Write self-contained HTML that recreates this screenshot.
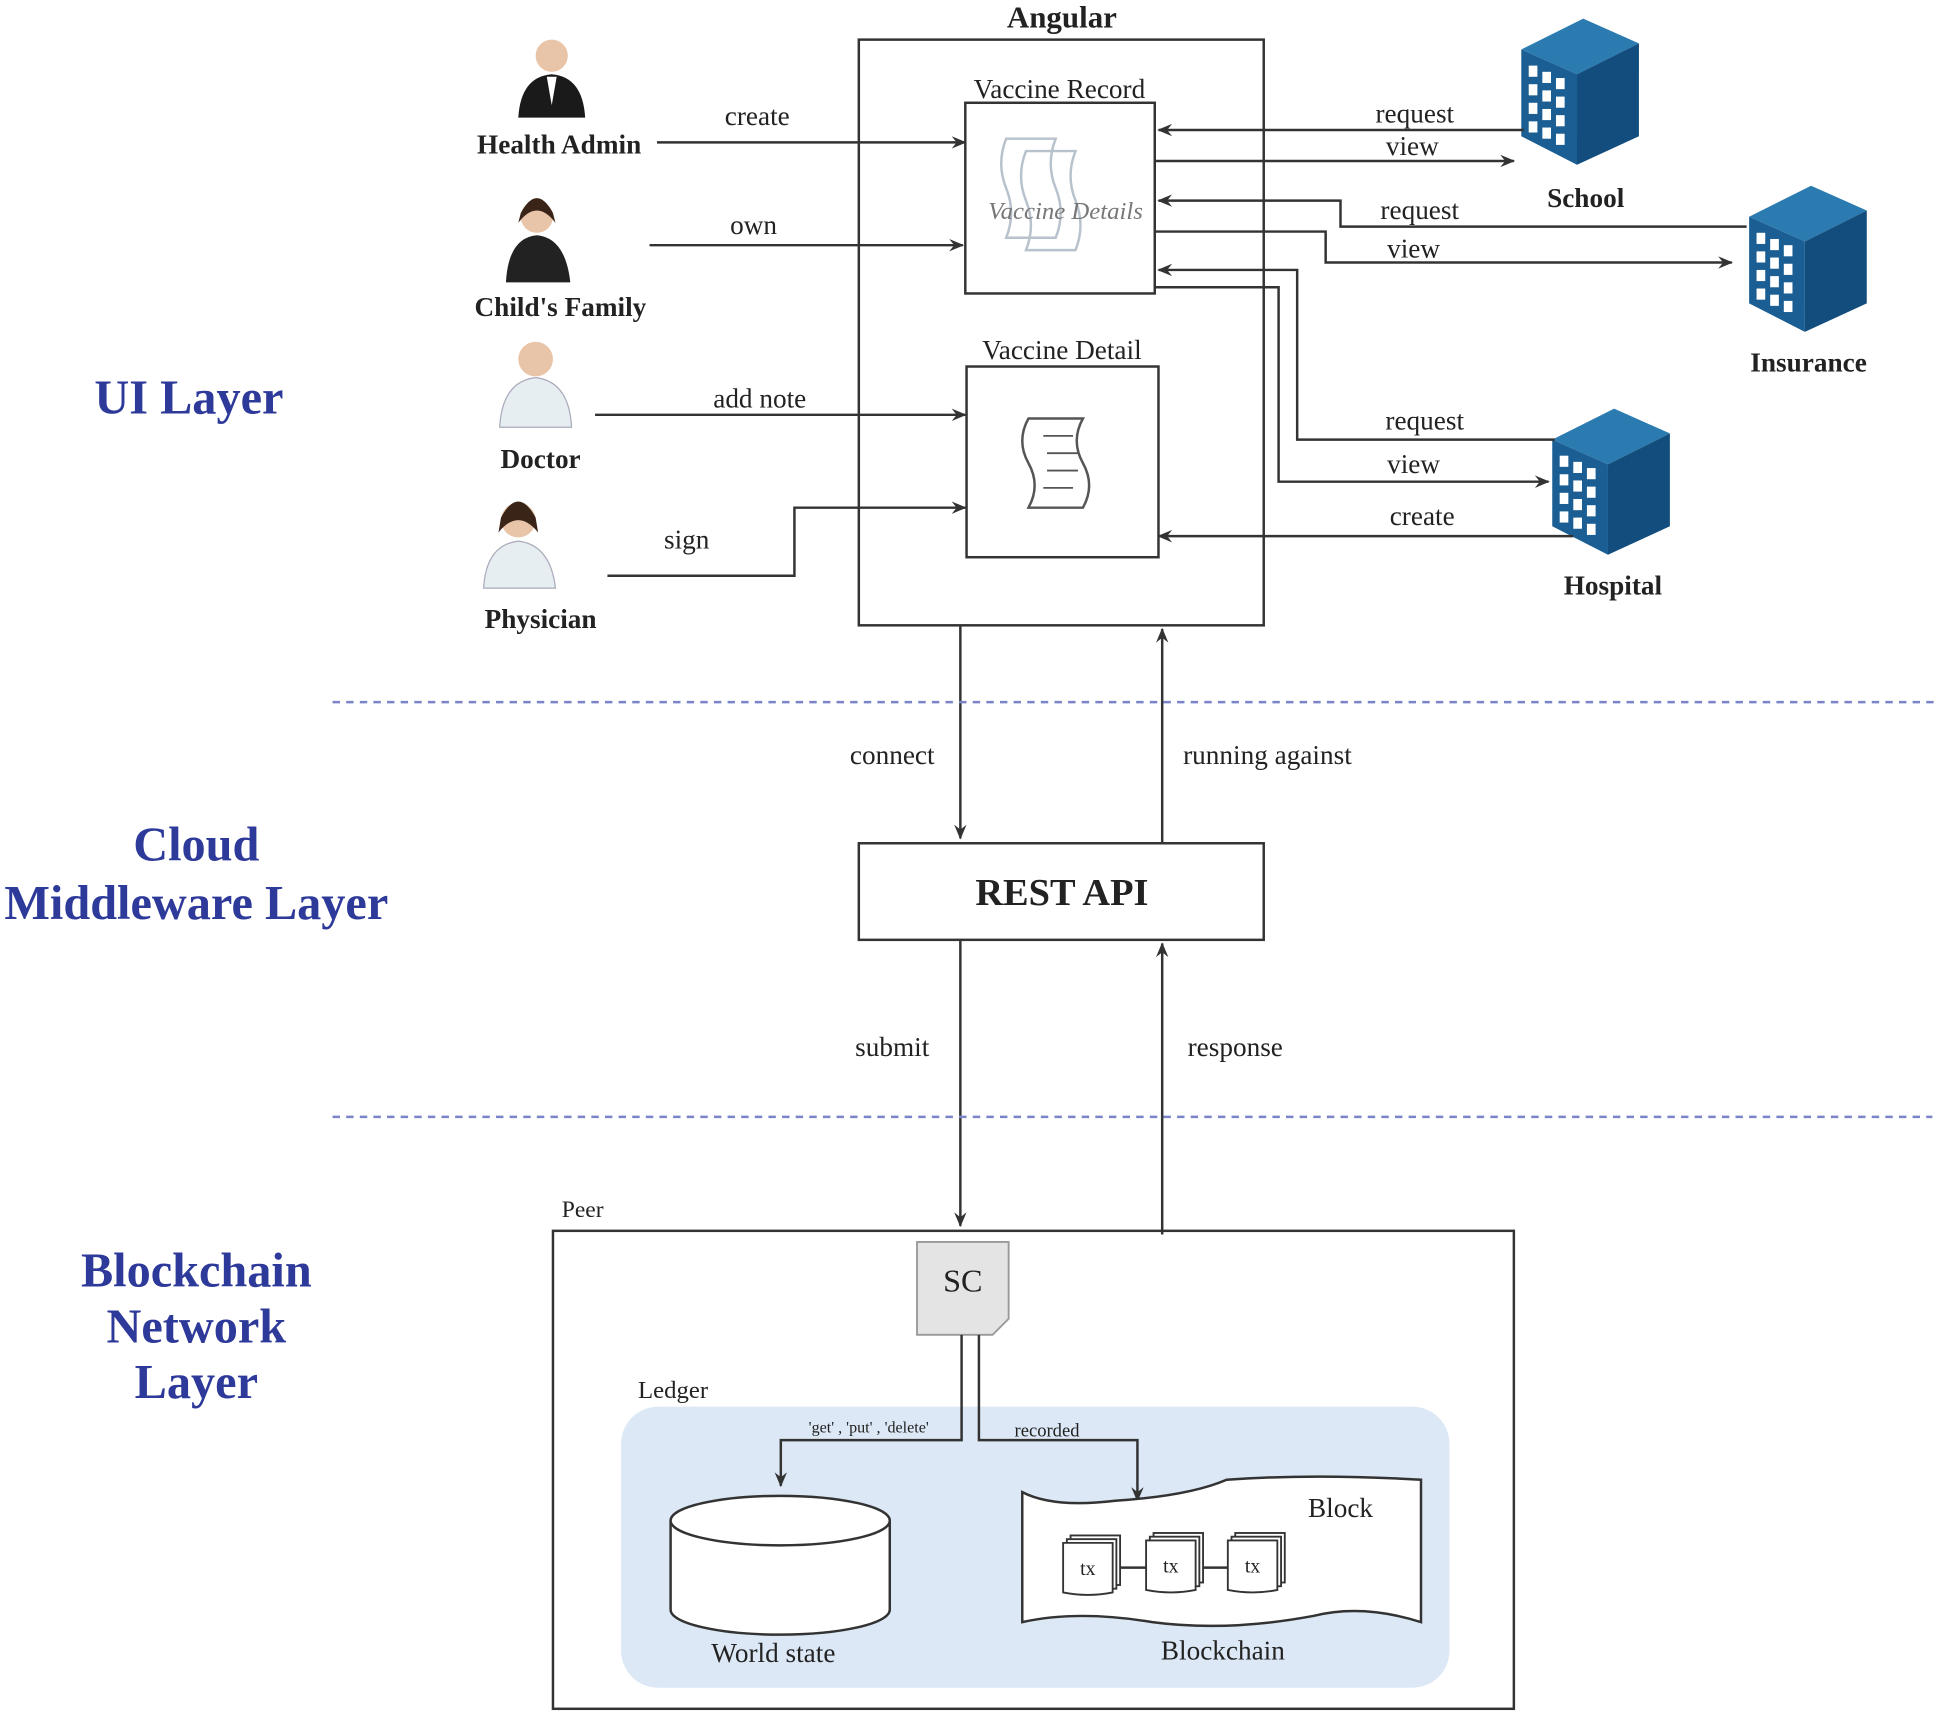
<!DOCTYPE html>
<html><head><meta charset="utf-8"><style>
html,body{margin:0;padding:0;background:#fff;}
svg{display:block}
text{font-family:"Liberation Serif",serif;fill:#222}
.blue{fill:#2e3a9a}
</style></head><body>
<svg width="1943" height="1715" viewBox="0 0 1568 1385" xmlns="http://www.w3.org/2000/svg">
<defs>
<marker id="a" markerWidth="12" markerHeight="10" refX="11" refY="5" orient="auto" markerUnits="userSpaceOnUse">
<path d="M0,0 L12,5 L0,10 L4,5 z" fill="#333"/></marker>
<g id="bld">
<polygon points="0,25 50,0 95,20 45,45" fill="#2b7bb0"/>
<polygon points="0,25 45,45 45,118 0,95" fill="#1a5e93"/>
<polygon points="45,45 95,20 95,95 45,118" fill="#124d7d"/>
<g fill="#fff">
<rect x="6" y="38" width="7" height="9"/><rect x="17" y="43" width="7" height="9"/><rect x="28" y="48" width="7" height="9"/>
<rect x="6" y="53" width="7" height="9"/><rect x="17" y="58" width="7" height="9"/><rect x="28" y="63" width="7" height="9"/>
<rect x="6" y="68" width="7" height="9"/><rect x="17" y="73" width="7" height="9"/><rect x="28" y="78" width="7" height="9"/>
<rect x="6" y="83" width="7" height="9"/><rect x="17" y="88" width="7" height="9"/><rect x="28" y="93" width="7" height="9"/>
</g></g>
<g id="tx">
<rect x="6" y="-6" width="40" height="40" fill="#fff" stroke="#333" stroke-width="1.5"/>
<rect x="3" y="-3" width="40" height="40" fill="#fff" stroke="#333" stroke-width="1.5"/>
<path d="M0,0 H40 V40 Q20,44 0,40 Z" fill="#fff" stroke="#333" stroke-width="1.5"/>
<text x="20" y="26" font-size="16" text-anchor="middle" font-family="Liberation Sans,sans-serif">tx</text>
</g>
</defs>

<g>
<circle cx="445" cy="45" r="13" fill="#e8c4a8"/><path d="M418,95 Q420,62 445,60 Q470,62 472,95 Z" fill="#1a1a1a"/><path d="M441,62 L445,85 L449,62 Z" fill="#fff"/>
<circle cx="433" cy="175" r="13" fill="#e8c4a8"/><path d="M420,172 Q433,148 446,172 L448,180 Q433,160 418,180Z" fill="#3a2418"/><path d="M408,228 Q410,192 433,190 Q456,192 460,228 Z" fill="#222"/>
<circle cx="432" cy="290" r="14" fill="#e8c4a8"/><path d="M403,345 Q405,308 432,305 Q459,308 461,345 Z" fill="#e6eef2" stroke="#aab" stroke-width="1"/>
<circle cx="418" cy="420" r="14" fill="#e8c4a8"/><path d="M404,418 Q418,392 432,418 L434,430 Q418,410 402,430Z" fill="#3a2418"/><path d="M390,475 Q392,440 418,437 Q444,440 448,475 Z" fill="#e6eef2" stroke="#aab" stroke-width="1"/>
</g>
<g font-weight="bold" font-size="22" text-anchor="middle">
<text x="451" y="124">Health Admin</text>
<text x="452" y="255">Child's Family</text>
<text x="436" y="378">Doctor</text>
<text x="436" y="507">Physician</text>
<text x="1280" y="167">School</text>
<text x="1460" y="300">Insurance</text>
<text x="1302" y="480">Hospital</text>
<text x="857" y="22" font-size="25">Angular</text>
</g>

<g font-weight="bold" font-size="39" text-anchor="middle">
<text class="blue" x="152" y="334">UI Layer</text>
<text class="blue" x="158" y="695">Cloud</text>
<text class="blue" x="158" y="742">Middleware Layer</text>
<text class="blue" x="158" y="1039">Blockchain</text>
<text class="blue" x="158" y="1084">Network</text>
<text class="blue" x="158" y="1129">Layer</text>
</g>

<g fill="none" stroke="#333" stroke-width="2">
<rect x="693" y="32" width="327" height="473"/>
<rect x="779" y="83" width="153" height="154"/>
<rect x="780" y="296" width="155" height="154"/>
<rect x="693" y="681" width="327" height="78"/>
<rect x="446" y="994" width="776" height="386"/>
</g>
<g font-size="22" text-anchor="middle">
<text x="855" y="79">Vaccine Record</text>
<text x="857" y="290">Vaccine Detail</text>
<text x="857" y="731" font-weight="bold" font-size="31">REST API</text>
</g>
<g fill="none" stroke="#b8c2cc" stroke-width="2">
<path d="M812,112 h40 q-8,20 0,40 q8,20 0,40 h-40 q8,-20 0,-40 q-8,-20 0,-40z"/>
<path d="M828,122 h40 q-8,20 0,40 q8,20 0,40 h-40 q8,-20 0,-40 q-8,-20 0,-40z"/>
</g>
<text x="860" y="177" font-size="20" font-style="italic" style="fill:#777" text-anchor="middle">Vaccine Details</text>
<path d="M830,338 h44 q-10,18 0,36 q10,18 0,36 h-44 q10,-18 0,-36 q-10,-18 0,-36z" fill="#fff" stroke="#555" stroke-width="2"/>
<g stroke="#555" stroke-width="1.5"><line x1="842" y1="352" x2="866" y2="352"/><line x1="845" y1="366" x2="870" y2="366"/><line x1="845" y1="380" x2="870" y2="380"/><line x1="842" y1="394" x2="866" y2="394"/></g>

<use href="#bld" x="1228" y="15"/>
<use href="#bld" x="1412" y="150"/>
<use href="#bld" x="1253" y="330"/>

<g fill="none" stroke="#333" stroke-width="2" marker-end="url(#a)">
<path d="M530,115 H779"/>
<path d="M524,198 H777"/>
<path d="M480,335 H779"/>
<path d="M490,465 H641 V410 H779"/>
<path d="M1230,105 H935"/>
<path d="M932,130 H1222"/>
<path d="M1410,183 H1082 V162 H935"/>
<path d="M932,187 H1070 V212 H1398"/>
<path d="M1255,355 H1047 V218 H935"/>
<path d="M932,232 H1032 V389 H1250"/>
<path d="M1270,433 H935"/>
<path d="M775,505 V677"/>
<path d="M938,680 V508"/>
<path d="M775,759 V990"/>
<path d="M938,997 V762"/>
</g>
<g font-size="22" text-anchor="middle">
<text x="611" y="101">create</text>
<text x="608" y="189">own</text>
<text x="613" y="329">add note</text>
<text x="554" y="443">sign</text>
<text x="1142" y="99">request</text>
<text x="1140" y="125">view</text>
<text x="1146" y="177">request</text>
<text x="1141" y="208">view</text>
<text x="1150" y="347">request</text>
<text x="1141" y="382">view</text>
<text x="1148" y="424">create</text>
<text x="720" y="617">connect</text>
<text x="1023" y="617">running against</text>
<text x="720" y="853">submit</text>
<text x="997" y="853">response</text>
<text x="470" y="983" font-size="19">Peer</text>
</g>

<g stroke="#7b84c8" stroke-width="2" stroke-dasharray="6,5"><line x1="268" y1="567" x2="1565" y2="567"/><line x1="268" y1="902" x2="1560" y2="902"/></g>

<text x="543" y="1129" font-size="20" text-anchor="middle">Ledger</text>
<rect x="501" y="1136" width="669" height="227" rx="30" fill="#dce8f5"/>
<path d="M740,1003 H814 V1065 L801,1078 H740 Z" fill="#e4e4e4" stroke="#999" stroke-width="1.5"/>
<text x="777" y="1043" font-size="26" font-family="Liberation Sans,sans-serif" text-anchor="middle">SC</text>
<g fill="none" stroke="#333" stroke-width="2" marker-end="url(#a)">
<path d="M776,1078 V1163 H630 V1200"/>
<path d="M790,1078 V1163 H918 V1212"/>
</g>
<text x="701" y="1157" font-size="13" text-anchor="middle">'get' , 'put' , 'delete'</text>
<text x="845" y="1160" font-size="15" text-anchor="middle">recorded</text>
<path d="M541,1228 V1300 A88,20 0 0 0 718,1300 V1228" fill="#fff" stroke="#333" stroke-width="2"/>
<ellipse cx="629.5" cy="1228" rx="88.5" ry="20" fill="#fff" stroke="#333" stroke-width="2"/>
<text x="624" y="1342" font-size="22" text-anchor="middle">World state</text>
<path d="M825,1205 Q850,1218 900,1212 Q960,1208 990,1195 Q1060,1190 1147,1195 V1310 Q1100,1295 1060,1305 Q990,1318 930,1310 Q870,1300 825,1310 Z" fill="#fff" stroke="#333" stroke-width="2"/>
<text x="1082" y="1225" font-size="22" text-anchor="middle">Block</text>
<use href="#tx" x="858" y="1246"/>
<use href="#tx" x="925" y="1244"/>
<use href="#tx" x="991" y="1244"/>
<g stroke="#333" stroke-width="2"><line x1="904" y1="1266" x2="925" y2="1266"/><line x1="971" y1="1266" x2="991" y2="1266"/></g>
<text x="987" y="1340" font-size="22" text-anchor="middle">Blockchain</text>
</svg>
</body></html>
